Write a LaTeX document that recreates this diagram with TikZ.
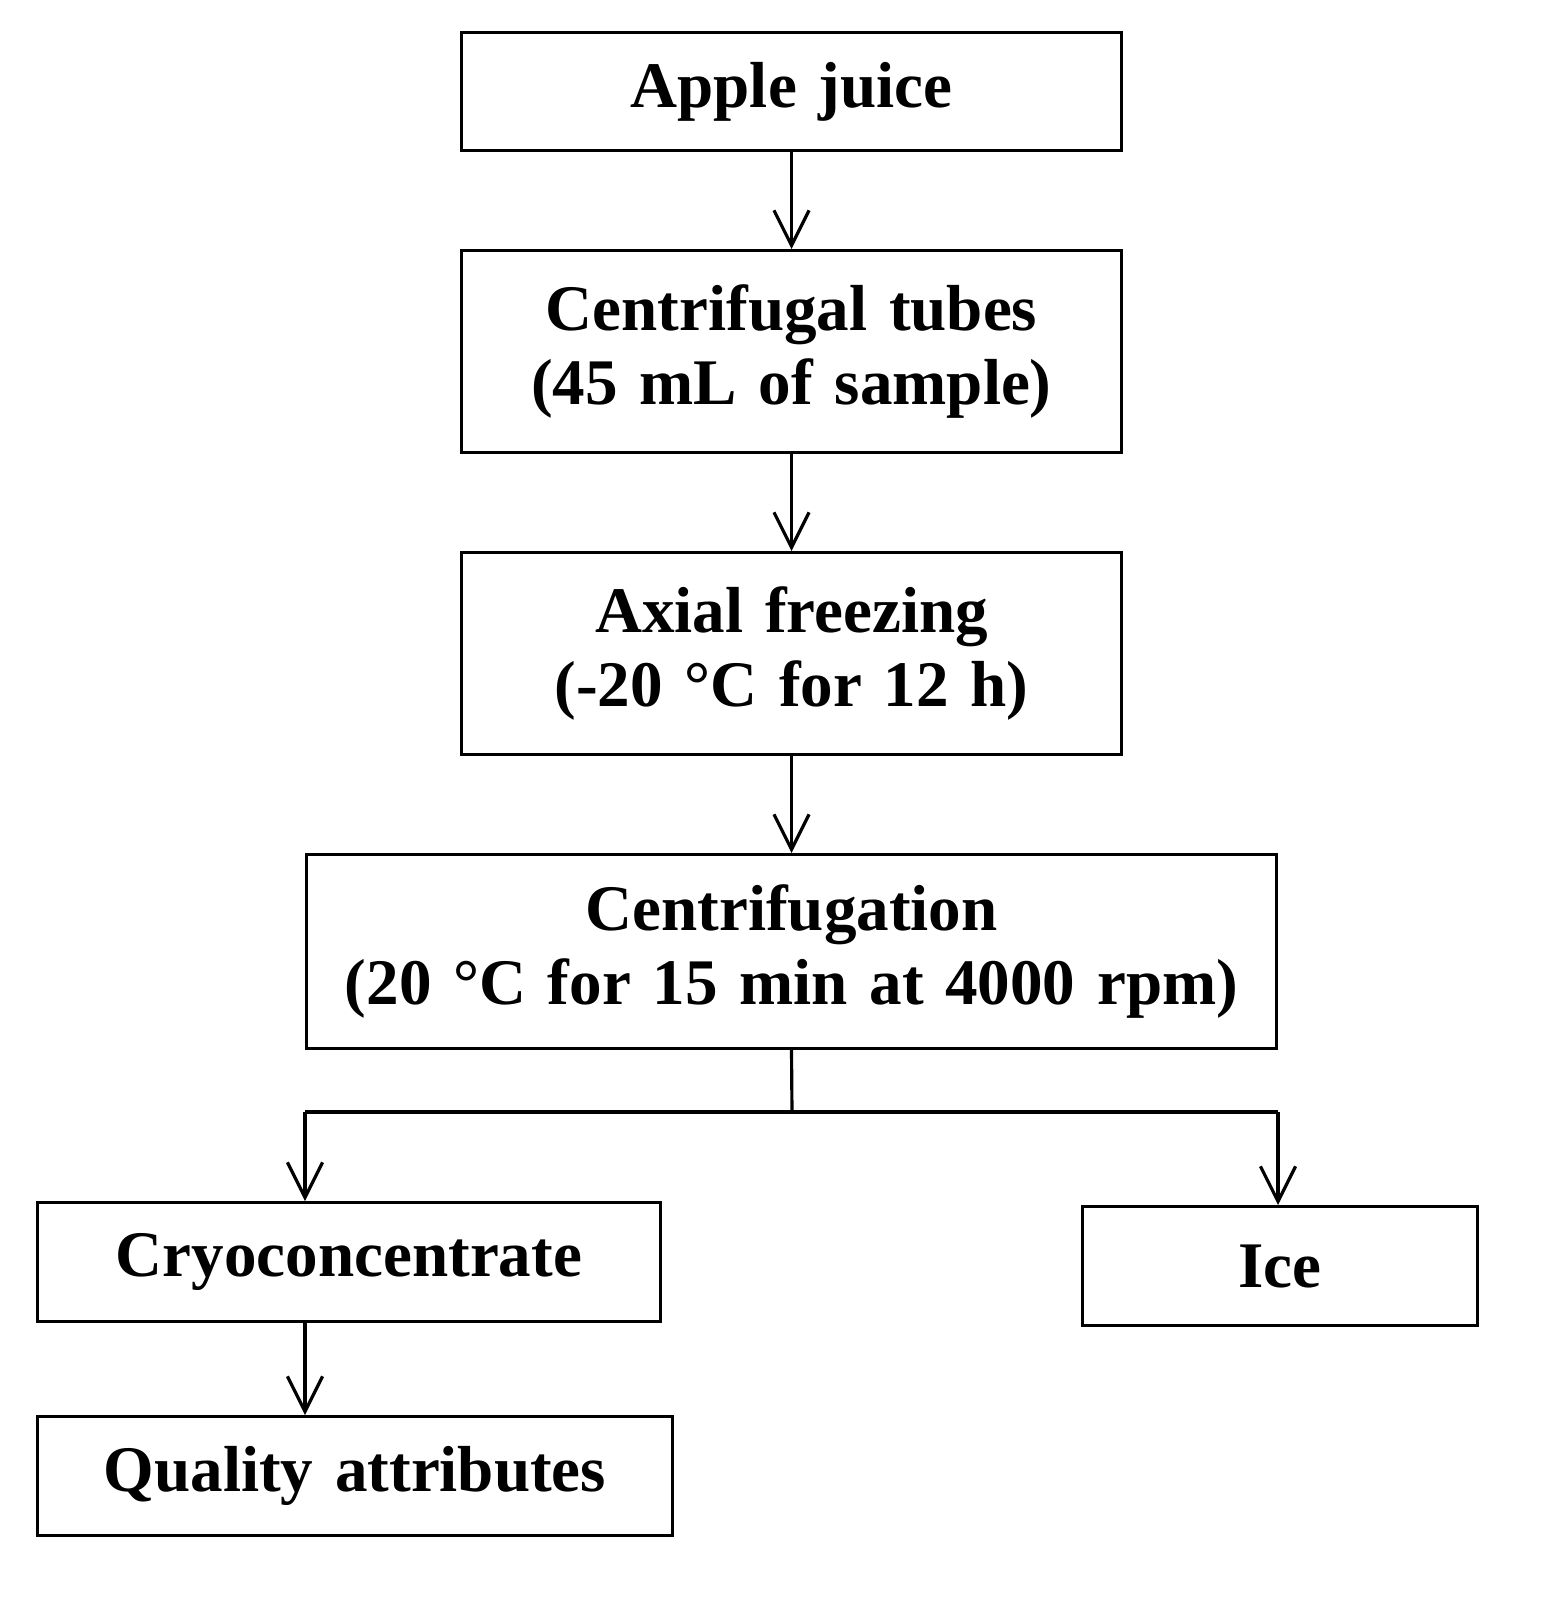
\documentclass[tikz,border=0pt]{standalone}
\usepackage{fontspec}
\setmainfont{Liberation Serif}
\usetikzlibrary{arrows.meta}
\begin{document}
\begin{tikzpicture}[x=0.01cm,y=-0.01cm,
  box/.style={draw,line width=0.9pt,inner sep=0pt,align=center,font=\fontsize{18.5}{21}\selectfont\bfseries},
  arr/.style={line width=0.9pt,-{Straight Barb[length=10pt,width=10pt,line width=0.9pt]}},
  ln/.style={line width=0.9pt}]
\useasboundingbox (0,0) rectangle (1550,1606);
\newcommand{\bx}[6]{\node[box,text width=#4*0.01cm-20pt,minimum width=#4*0.01cm-0.9pt,minimum height=#5*0.01cm-0.9pt] (#1) at (#2,#3) {#6};}
\bx{a}{791.5}{91.5}{663}{121}{Apple juice}
\bx{b}{791.5}{351.5}{663}{205}{Centrifugal tubes\\(45 mL of sample)}
\bx{c}{791.5}{653.5}{663}{205}{Axial freezing\\(-20 °C for 12 h)}
\bx{d}{791.5}{951.5}{973}{197}{Centrifugation\\(20 °C for 15 min at 4000 rpm)}
\bx{e}{349}{1262}{626}{122}{Cryoconcentrate}
\bx{f}{1280}{1266}{398}{122}{Ice}
\bx{g}{355}{1476}{638}{122}{Quality attributes}
\coordinate (j) at (792,1112);
\coordinate (jl) at (305,1112);
\coordinate (jr) at (1278,1112);
\draw[arr] (a) -- (b);
\draw[arr] (b) -- (c);
\draw[arr] (c) -- (d.north);
\draw[ln] (d.south) -- (j);
\draw[ln] (jl) -- (jr);
\draw[arr] (jl) -- (jl |- e.north);
\draw[arr] (jr) -- (jr |- f.north);
\draw[arr] (jl |- e.south) -- (jl |- g.north);
\end{tikzpicture}
\end{document}
